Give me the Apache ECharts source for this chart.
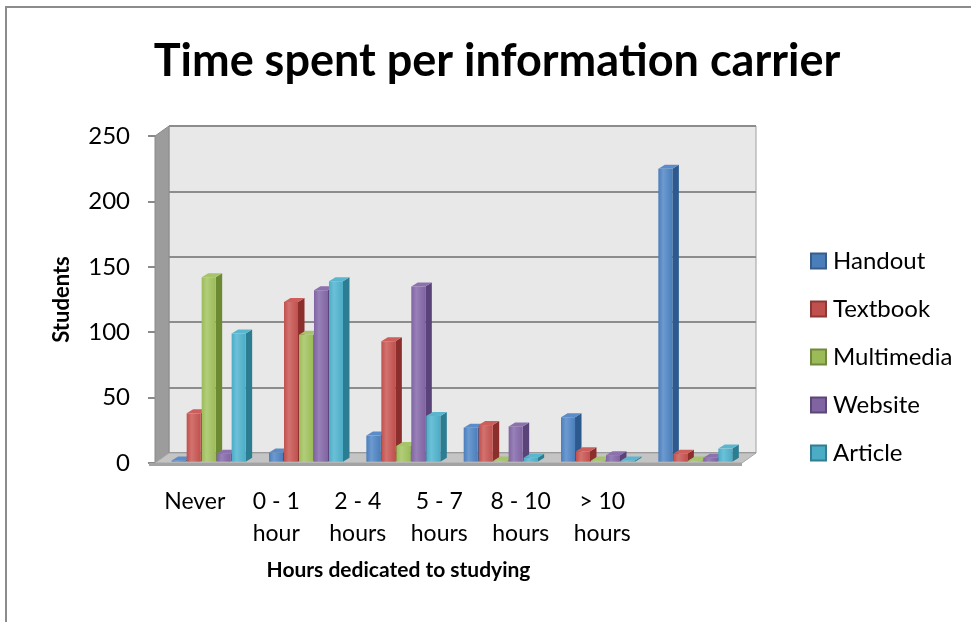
<!DOCTYPE html>
<html>
<head>
<meta charset="utf-8">
<title>Time spent per information carrier</title>
<script src="https://cdn.jsdelivr.net/npm/echarts@6/dist/echarts.min.js"></script>
<style>
  html, body { margin: 0; padding: 0; background: #ffffff; }
  #chart { width: 971px; height: 622px; }
</style>
</head>
<body>
<div id="chart"></div>
<script>
// Hours dedicated to studying, per category
const categories = ['Never', '0 - 1\nhour', '2 - 4\nhours', '5 - 7\nhours', '8 - 10\nhours', '> 10\nhours'];

// Number of students per information carrier
const handout    = [1, 7, 20, 26, 34, 224];
const textbook   = [37, 122, 92, 28, 8, 6];
const multimedia = [141, 97, 12, 1, 1, 1];
const website    = [6, 131, 134, 27, 5, 3];
const article    = [98, 138, 35, 3, 1, 10];

const seriesNames = ['Handout', 'Textbook', 'Multimedia', 'Website', 'Article'];
const seriesData = [handout, textbook, multimedia, website, article];

// Value axis
const yMin = 0;
const yMax = 250;
const yStep = 50;

// Face colours: front, lighter highlight, side, top
const palette = [
  { front: '#4a7ebb', light: '#6d9ad0', side: '#2c5a8e', top: '#5b8cc7', border: '#385d8a' },
  { front: '#c0504d', light: '#d2726f', side: '#8c2e2b', top: '#cc5f5c', border: '#8c3836' },
  { front: '#9bbb59', light: '#b2cd79', side: '#6b8a31', top: '#a6c468', border: '#71893f' },
  { front: '#8064a2', light: '#9880b8', side: '#5a4379', top: '#8b71ad', border: '#5c4776' },
  { front: '#4bacc6', light: '#6cc0d7', side: '#2c7c92', top: '#5ab6cf', border: '#357d91' }
];

// Geometry of the 3-D box
const FONT = 'Lato, "Liberation Sans", sans-serif';
const W = 971, H = 622;
const front = { left: 155, right: 742, top: 136, bottom: 463 };
const depth = { dx: 14, dy: -10 };
const barsArea = { left: 160, right: 744, top: 134.7, bottom: 461.7 };
const labelArea = { left: 154, right: 643 };
const barPitch = 0.154;   // share of a category band per series
const barWidth = 0.144;   // front face width as share of band
const barDepth = { dx: 6.5, dy: -4 };

function renderBar(params, api) {
  const s = params.seriesIndex;
  const idx = api.value(0);
  const val = api.value(1);
  const base = api.coord([idx, 0]);
  const topPt = api.coord([idx, val]);
  const band = api.size([1, 0])[0];
  const w = band * barWidth;
  const x = base[0] + (s - 2) * band * barPitch - w / 2;
  const yb = base[1];
  const yt = topPt[1];
  const c = palette[s];
  const dx = barDepth.dx, dy = barDepth.dy;
  return {
    type: 'group',
    children: [
      {
        type: 'polygon',
        shape: { points: [[x + w, yt], [x + w + dx, yt + dy], [x + w + dx, yb + dy], [x + w, yb]] },
        style: { fill: c.side }
      },
      {
        type: 'rect',
        shape: { x: x, y: yt, width: w, height: Math.max(yb - yt, 0) },
        style: {
          fill: new echarts.graphic.LinearGradient(0, 0, 1, 0, [
            { offset: 0, color: c.front },
            { offset: 0.35, color: c.light },
            { offset: 1, color: c.front }
          ])
        }
      },
      {
        type: 'polygon',
        shape: { points: [[x, yt], [x + dx, yt + dy], [x + w + dx, yt + dy], [x + w, yt]] },
        style: { fill: c.top }
      }
    ]
  };
}

const series = seriesNames.map((name, i) => ({
  name: name,
  type: 'custom',
  xAxisIndex: 2,
  yAxisIndex: 2,
  renderItem: renderBar,
  itemStyle: { color: palette[i].front, borderColor: palette[i].border, borderWidth: 1.5 },
  encode: { x: 0, y: 1 },
  data: seriesData[i].map((v, k) => [k, v]),
  z: 5
}));

const back = {
  left: front.left + depth.dx,
  right: front.right + depth.dx,
  top: front.top + depth.dy,
  bottom: front.bottom + depth.dy
};

const graphics = [
  // chart frame
  {
    type: 'rect', z: 0,
    shape: { x: 6, y: 7, width: W + 40, height: H + 40 },
    style: { fill: 'none', stroke: '#8c8c8c', lineWidth: 2 }
  },
  // left wall
  {
    type: 'polygon', z: 1,
    shape: { points: [[front.left, front.top], [back.left, back.top], [back.left, back.bottom], [front.left, front.bottom]] },
    style: { fill: '#9c9c9c', stroke: '#8a8a8a', lineWidth: 1 }
  },
  // floor
  {
    type: 'polygon', z: 1,
    shape: { points: [[front.left, front.bottom], [back.left, back.bottom], [back.right, back.bottom], [front.right, front.bottom]] },
    style: { fill: '#c4c4c4', stroke: '#a8a8a8', lineWidth: 1 }
  },
  // floor front edge
  {
    type: 'rect', z: 1,
    shape: { x: front.left - 6, y: front.bottom, width: front.right - front.left + 6, height: 3 },
    style: { fill: '#a3a3a3' }
  }
];

const chart = echarts.init(document.getElementById('chart'), null, { renderer: 'canvas' });

chart.setOption({
  animation: false,
  backgroundColor: '#ffffff',
  textStyle: { fontFamily: FONT },
  title: {
    text: 'Time spent per information carrier',
    left: 492,
    top: 34,
    textAlign: 'center',
    textStyle: { fontFamily: FONT, fontWeight: 'bold', fontSize: 45, color: '#000' }
  },
  legend: {
    orient: 'vertical',
    left: 810,
    top: 249,
    padding: 0,
    itemWidth: 15,
    itemHeight: 15,
    itemGap: 24,
    icon: 'rect',
    data: seriesNames,
    textStyle: { fontFamily: FONT, fontSize: 24, color: '#000', padding: [0, 0, 0, 2] }
  },
  grid: [
    // front plane: value axis
    { left: front.left, right: W - front.right, top: front.top, bottom: H - front.bottom },
    // back wall
    {
      left: back.left, right: W - back.right, top: back.top, bottom: H - back.bottom,
      show: true, backgroundColor: '#e8e8e8', borderColor: '#a0a0a0', borderWidth: 1, z: 0
    },
    // bars
    { left: barsArea.left, right: W - barsArea.right, top: barsArea.top, bottom: H - barsArea.bottom },
    // category labels
    { left: labelArea.left, right: W - labelArea.right, top: front.top, bottom: H - front.bottom }
  ],
  xAxis: [
    { gridIndex: 0, type: 'value', show: false },
    { gridIndex: 1, type: 'value', show: false },
    { gridIndex: 2, type: 'category', data: categories, show: false },
    {
      gridIndex: 3, type: 'category', data: categories,
      axisLine: { show: false }, axisTick: { show: false },
      axisLabel: { fontFamily: FONT, fontSize: 23, color: '#000', lineHeight: 32, margin: 23, interval: 0 },
      name: 'Hours dedicated to studying',
      nameLocation: 'middle',
      nameGap: 97,
      nameTextStyle: { fontFamily: FONT, fontWeight: 'bold', fontSize: 21, color: '#000' }
    }
  ],
  yAxis: [
    {
      gridIndex: 0, type: 'value', min: yMin, max: yMax, interval: yStep,
      axisLine: { show: true, lineStyle: { color: '#8a8a8a', width: 1 } },
      axisTick: { show: true, length: 7, lineStyle: { color: '#8a8a8a', width: 2 } },
      axisLabel: { fontFamily: FONT, fontSize: 24, color: '#000', margin: 25 },
      splitLine: { show: false },
      name: 'Students',
      nameLocation: 'middle',
      nameGap: 82,
      nameRotate: 90,
      nameTextStyle: { fontFamily: FONT, fontWeight: 'bold', fontSize: 22, color: '#000' }
    },
    {
      gridIndex: 1, type: 'value', min: yMin, max: yMax, interval: yStep,
      axisLine: { show: false }, axisTick: { show: false }, axisLabel: { show: false },
      splitLine: { show: true, lineStyle: { color: '#8c8c8c', width: 2 } }
    },
    { gridIndex: 2, type: 'value', min: yMin, max: yMax, interval: yStep, show: false, splitLine: { show: false } },
    { gridIndex: 3, type: 'value', min: yMin, max: yMax, show: false, splitLine: { show: false } }
  ],
  graphic: graphics,
  series: series
});
</script>
</body>
</html>
